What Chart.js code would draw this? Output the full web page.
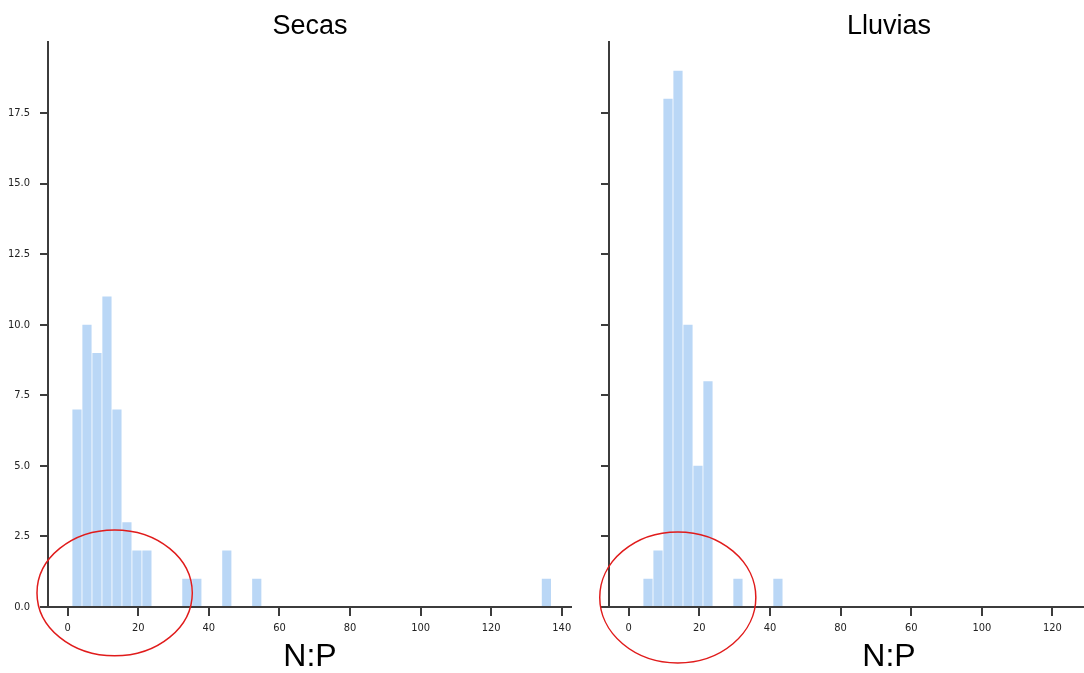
<!DOCTYPE html>
<html>
<head>
<meta charset="utf-8">
<script src="https://cdn.jsdelivr.net/npm/chart.js@4"></script>
<style>
    html, body { margin: 0; padding: 0; background: #fff; overflow: hidden; }
    #wrap { position: relative; width: 1084px; height: 673px; overflow: hidden; }
    #secas { position: absolute; left: 0; top: 0; }
    #lluvias { position: absolute; left: 580px; top: 0; }
</style>
</head>
<body>
<div id="wrap">
    <canvas id="secas" width="572" height="673"></canvas>
    <canvas id="lluvias" width="589" height="673"></canvas>
</div>
<script>
// histogram bins (N:P), width of each bin and where the first one starts
const binWidth = 2.83
const secasStart = 1.22
const secasCounts = [
    7, 10, 9, 11, 7, 3, 2, 2, 0, 0,
    0, 1, 1, 0, 0, 2, 0, 0, 1, 0,
    0, 0, 0, 0, 0, 0, 0, 0, 0, 0,
    0, 0, 0, 0, 0, 0, 0, 0, 0, 0,
    0, 0, 0, 0, 0, 0, 0, 1
]
const lluviasStart = 4.05
const lluviasCounts = [1, 2, 18, 19, 10, 5, 8, 0, 0, 1, 0, 0, 0, 1]

const yTicks = [0, 2.5, 5, 7.5, 10, 12.5, 15, 17.5]
const yTickLabels = ['0.0', '2.5', '5.0', '7.5', '10.0', '12.5', '15.0', '17.5']
const xTicks = [0, 20, 40, 60, 80, 100, 120, 140]
const secasXLabels = ['0', '20', '40', '60', '80', '100', '120', '140']
const lluviasXLabels = ['0', '20', '40', '80', '60', '100', '120', '140']

// red ellipses: centre x, centre y, radius x, radius y (data units)
const secasCircle = [13.3, 0.5, 22, 2.23]
const lluviasCircle = [13.9, 0.34, 22.1, 2.32]

const axisColor = '#3c3c3c'
const barColor = '#bad7f6'
const tickFont = { family: "'Liberation Sans Narrow', 'DejaVu Sans Condensed', sans-serif", size: 11 }

function toPoints(start, counts) {
    let pts = []
    counts.forEach((c, i) => {
        if (c > 0) pts.push({ x: start + binWidth * (i + 0.5), y: c })
    })
    return pts
}

const ellipsePlugin = {
    id: 'ellipse',
    afterDraw(chart, args, opts) {
        const [cx, cy, rx, ry] = opts.shape
        const xs = chart.scales.x, ys = chart.scales.y
        const px = xs.getPixelForValue(cx), py = ys.getPixelForValue(cy)
        const prx = Math.abs(xs.getPixelForValue(cx + rx) - px)
        const pry = Math.abs(ys.getPixelForValue(cy + ry) - py)
        const ctx = chart.ctx
        ctx.save()
        ctx.strokeStyle = '#e01b1b'
        ctx.lineWidth = 1.5
        ctx.beginPath()
        ctx.ellipse(px, py, prx, pry, 0, 0, Math.PI * 2)
        ctx.stroke()
        ctx.restore()
    }
}

function makeChart(id, title, start, counts, xLabels, circle, yWidth, xMax, showY) {
    new Chart(document.getElementById(id).getContext('2d'), {
        type: 'bar',
        data: {
            datasets: [{
                data: toPoints(start, counts),
                backgroundColor: barColor,
                borderWidth: 0,
                barPercentage: 0.92,
                categoryPercentage: 1
            }]
        },
        plugins: [ellipsePlugin],
        options: {
            responsive: false,
            animation: false,
            layout: { padding: 0 },
            plugins: {
                legend: { display: false },
                tooltip: { enabled: false },
                title: {
                    display: true,
                    text: title,
                    fullSize: false,
                    color: '#000',
                    font: { family: "'Liberation Sans', Arial, sans-serif", size: 27, weight: 'normal' },
                    padding: { top: 10, bottom: 0 }
                },
                ellipse: { shape: circle }
            },
            scales: {
                x: {
                    type: 'linear',
                    offset: false,
                    min: -5.58,
                    max: xMax,
                    afterBuildTicks: (s) => { s.ticks = xTicks.map(v => ({ value: v })) },
                    afterFit: (s) => {
                        s.height = 66
                        s.paddingLeft = 0
                        s.paddingRight = 0
                    },
                    ticks: {
                        font: tickFont,
                        color: '#222',
                        padding: 6,
                        maxRotation: 0,
                        callback: (v, i) => xLabels[i]
                    },
                    grid: { offset: false, drawOnChartArea: false, tickLength: 9, color: axisColor, lineWidth: 2 },
                    border: { display: true, color: axisColor, width: 2 },
                    title: {
                        display: true,
                        text: 'N:P',
                        color: '#000',
                        font: { family: "'Liberation Sans', Arial, sans-serif", size: 32, lineHeight: 1 },
                        padding: { top: 0, bottom: 0 }
                    }
                },
                y: {
                    min: 0,
                    max: 20,
                    afterBuildTicks: (s) => { s.ticks = yTicks.map(v => ({ value: v })) },
                    afterFit: (s) => { s.width = yWidth },
                    ticks: {
                        display: showY,
                        font: tickFont,
                        color: '#222',
                        padding: 10,
                        callback: (v, i) => yTickLabels[i]
                    },
                    grid: { drawOnChartArea: false, tickLength: 8, color: axisColor, lineWidth: 2 },
                    border: { display: true, color: axisColor, width: 2 }
                }
            }
        }
    })
}

makeChart('secas', 'Secas', secasStart, secasCounts, secasXLabels, secasCircle, 48, 142.9, true)
makeChart('lluvias', 'Lluvias', lluviasStart, lluviasCounts, lluviasXLabels, lluviasCircle, 29, 153, false)
</script>
</body>
</html>
